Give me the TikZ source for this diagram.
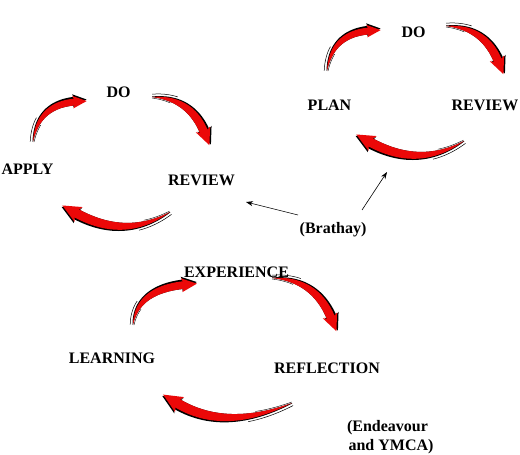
\documentclass[tikz,border=0pt]{standalone}
\usepackage{fontspec}
\setmainfont{Liberation Serif}
\usetikzlibrary{arrows.meta}
\definecolor{arrowred}{RGB}{235,8,8}
\def\Ax{0}\def\Ay{0}\def\Bx{0}\def\By{0}\def\Cx{1}\def\Cy{0}\def\Sc{1}
\pgfmathdeclarefunction{qbx}{1}{\pgfmathparse{(1-#1)*(1-#1)*(\Ax)+2*#1*(1-#1)*(\Bx)+#1*#1*(\Cx)}}
\pgfmathdeclarefunction{qby}{1}{\pgfmathparse{(1-#1)*(1-#1)*(\Ay)+2*#1*(1-#1)*(\By)+#1*#1*(\Cy)}}
\pgfmathdeclarefunction{qdx}{1}{\pgfmathparse{(1-#1)*((\Bx)-(\Ax))+#1*((\Cx)-(\Bx))}}
\pgfmathdeclarefunction{qdy}{1}{\pgfmathparse{(1-#1)*((\By)-(\Ay))+#1*((\Cy)-(\By))}}
\pgfmathdeclarefunction{qnx}{1}{\pgfmathparse{-1*qdy(#1)/veclen(qdx(#1),qdy(#1))}}
\pgfmathdeclarefunction{qny}{1}{\pgfmathparse{qdx(#1)/veclen(qdx(#1),qdy(#1))}}
\pgfmathdeclarefunction{qhw}{1}{\pgfmathparse{(\Sc)*3.8*#1*(2-#1)}}
\newcommand\headpath[2]{%
  ({\Cx-(\Ux)+(\Hb)*(\Nx)+(#1)},{\Cy-(\Uy)+(\Hb)*(\Ny)+(#2)})
  -- ({\Cx-2.5*(\Sc)*(\Ux)+(\Hw)*(\Nx)+(#1)},{\Cy-2.5*(\Sc)*(\Uy)+(\Hw)*(\Ny)+(#2)})
  -- ({\Cx+(\Hl)*(\Ux)+(#1)},{\Cy+(\Hl)*(\Uy)+(#2)})
  -- ({\Cx-2.5*(\Sc)*(\Ux)-(\Hw)*(\Nx)+(#1)},{\Cy-2.5*(\Sc)*(\Uy)-(\Hw)*(\Ny)+(#2)})
  -- ({\Cx-(\Ux)-(\Hb)*(\Nx)+(#1)},{\Cy-(\Uy)-(\Hb)*(\Ny)+(#2)}) -- cycle}
\newcommand\cyclearrow[7]{%
  \def\Ax{#1}\def\Ay{#2}\def\Bx{#3}\def\By{#4}\def\Cx{#5}\def\Cy{#6}\def\Sc{#7}%
  \pgfmathsetmacro\Ux{(\Cx-\Bx)/veclen(\Cx-\Bx,\Cy-\By)}%
  \pgfmathsetmacro\Uy{(\Cy-\By)/veclen(\Cx-\Bx,\Cy-\By)}%
  \pgfmathsetmacro\Nx{-1*(\Uy)}\pgfmathsetmacro\Ny{\Ux}%
  \pgfmathsetmacro\Hb{3.8*(\Sc)}\pgfmathsetmacro\Hw{7*(\Sc)}\pgfmathsetmacro\Hl{13*(\Sc)}%
  \pgfmathsetmacro\Ox{-1.6*(\Nx)}\pgfmathsetmacro\Oy{-1.6*(\Ny)}%
  % black shadow along the outer side
  \fill[black] plot[domain=0:1,samples=30,variable=\t]
     ({qbx(\t)-(qhw(\t)+0.5+1.3*\t)*qnx(\t)},{qby(\t)-(qhw(\t)+0.5+1.3*\t)*qny(\t)})
     -- plot[domain=1:0,samples=30,variable=\t]
     ({qbx(\t)+qhw(\t)*qnx(\t)},{qby(\t)+qhw(\t)*qny(\t)}) -- cycle;
  \fill[black] \headpath{\Ox}{\Oy};
  % red body and head
  \fill[arrowred] plot[domain=0:1,samples=30,variable=\t]
     ({qbx(\t)-qhw(\t)*qnx(\t)},{qby(\t)-qhw(\t)*qny(\t)})
     -- plot[domain=1:0,samples=30,variable=\t]
     ({qbx(\t)+qhw(\t)*qnx(\t)},{qby(\t)+qhw(\t)*qny(\t)}) -- cycle;
  \fill[arrowred] \headpath{0}{0};
  % tail hairlines
  \draw[line width=0.5pt] plot[domain=0:0.35,samples=12,variable=\t]
     ({qbx(\t)-(qhw(\t)+2.8)*qnx(\t)},{qby(\t)-(qhw(\t)+2.8)*qny(\t)});
  \draw[line width=0.4pt] plot[domain=0:0.28,samples=10,variable=\t]
     ({qbx(\t)+(qhw(\t)+1.0)*qnx(\t)},{qby(\t)+(qhw(\t)+1.0)*qny(\t)});
}
\tikzset{
  lbl/.style={font=\bfseries\fontsize{16}{19}\selectfont, inner sep=0pt, anchor=base},
  thinarrow/.style={line width=0.6pt, -{Stealth[length=7pt,width=5pt]}}
}
\begin{document}
\begin{tikzpicture}[x=1pt,y=-1pt]
\useasboundingbox (0,0) rectangle (520,455);
\fill[white] (0,0) rectangle (520,455);
% left cycle
\cyclearrow{33}{142}{38}{105}{75}{102}{0.9}
\cyclearrow{152}{97}{190}{98}{204}{132}{1.1}
\cyclearrow{170}{212}{125}{240}{76}{213}{1.2}
% right cycle
\cyclearrow{327}{71}{332}{34}{369}{31}{0.9}
\cyclearrow{446}{26}{484}{27}{498}{61}{1.1}
\cyclearrow{464}{141}{419}{169}{370}{142}{1.2}
% bottom cycle
\cyclearrow{133}{325}{137}{290}{184}{285}{1.0}
\cyclearrow{272}{278}{315}{279}{331}{318}{1.1}
\cyclearrow{292}{403}{225}{432}{177}{403}{1.25}
% labels
\node[lbl] (ldo) at (118.5,97.5) {DO};
\node[lbl] (apply) at (27.5,174) {APPLY};
\node[lbl] (lrev) at (201.5,185.5) {REVIEW};
\node[lbl] (rdo) at (413.5,37.5) {DO};
\node[lbl] (plan) at (329.5,110) {PLAN};
\node[lbl] (rrev) at (485,110) {REVIEW};
\node[lbl] (brathay) at (333,233.5) {(Brathay)};
\node[lbl] (exp) at (236.5,277) {EXPERIENCE};
\node[lbl] (learn) at (112,363.5) {LEARNING};
\node[lbl] (refl) at (327,373.5) {REFLECTION};
\node[lbl] (end1) at (387.5,431.5) {(Endeavour};
\node[lbl] (end2) at (391,450) {and YMCA)};
% Brathay pointers
\coordinate (bl0) at (298,215);
\coordinate (bl1) at (246,202);
\coordinate (br0) at (362,210);
\coordinate (br1) at (387,172);
\draw[thinarrow] (bl0) -- (bl1);
\draw[thinarrow] (br0) -- (br1);
\end{tikzpicture}
\end{document}
